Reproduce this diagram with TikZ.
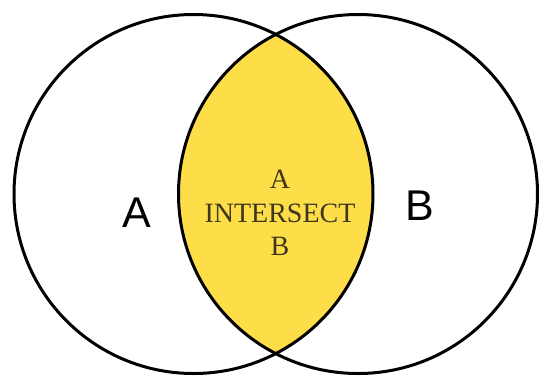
\documentclass[tikz,border=0pt]{standalone}
\usepackage{fontspec}
\setmainfont{Liberation Serif}
\newfontfamily\labelsans{Liberation Sans}
\definecolor{lensyellow}{RGB}{253,221,72}
\definecolor{lenstext}{RGB}{62,55,30}
\begin{document}
\begin{tikzpicture}[x=1pt,y=-1pt,
  setcircle/.style={draw=black,line width=3pt},
  setlabel/.style={font=\labelsans\fontsize{43}{46}\selectfont,text=black},
  midlabel/.style={font=\fontsize{28}{33.5}\selectfont,text=lenstext,align=center}]
\useasboundingbox[fill=white] (0,0) rectangle (539,376);
\coordinate (cA) at (193.5,194);
\coordinate (cB) at (358,194);
\begin{scope}
  \clip (cA) circle[radius=179.5pt];
  \fill[lensyellow] (cB) circle[radius=179.5pt];
\end{scope}
\node[setcircle,circle,minimum size=359pt,inner sep=0pt] (setA) at (cA) {};
\node[setcircle,circle,minimum size=359pt,inner sep=0pt] (setB) at (cB) {};
\node[setlabel] (labA) at (137,213) {A};
\node[setlabel] (labB) at (420,206) {B};
\node[midlabel] (inter) at (280,213) {A\\INTERSECT\\B};
\end{tikzpicture}
\end{document}
